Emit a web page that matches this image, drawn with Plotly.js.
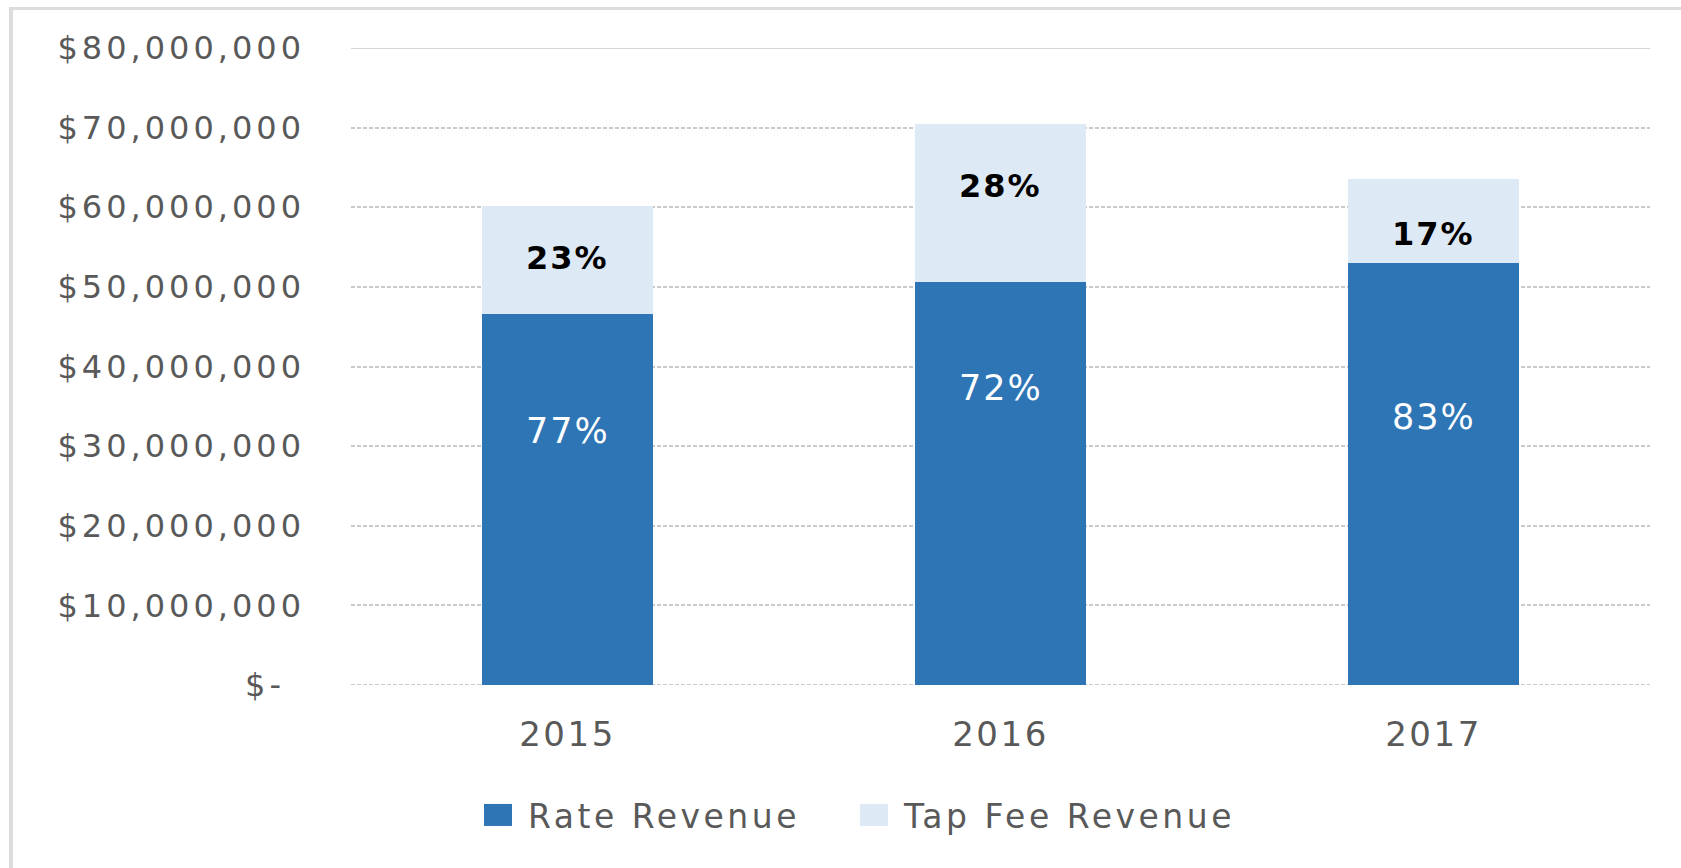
<!DOCTYPE html>
<html>
<head>
<meta charset="utf-8">
<script src="https://cdn.plot.ly/plotly-3.0.1.min.js"></script>
<style>
html, body { margin: 0; padding: 0; background: #ffffff; }
#chart { width: 1681px; height: 868px; }
.ytick text { letter-spacing: 4px; }
.xtick text { letter-spacing: 2.5px; }
.legendtext { letter-spacing: 3.5px; }
.annotation-text { letter-spacing: 2px; }
</style>
</head>
<body>
<div id="chart"></div>
<script>
// ---- data ----
const years = ['2015', '2016', '2017'];
const rateRevenue = [46600000, 50600000, 52950000];
const tapFeeRevenue = [13600000, 19800000, 10650000];
const ratePctLabels = ['77%', '72%', '83%'];
const tapPctLabels = ['23%', '28%', '17%'];
const seriesNames = ['Rate Revenue', 'Tap Fee Revenue'];
const yTickValues = [0, 10000000, 20000000, 30000000, 40000000, 50000000, 60000000, 70000000, 80000000];
const yTickLabels = ['$-\u2002', '$10,000,000', '$20,000,000', '$30,000,000', '$40,000,000',
                     '$50,000,000', '$60,000,000', '$70,000,000', '$80,000,000'];

// ---- layout constants ----
const W = 1681, H = 868;
const M = { l: 351, r: 31, t: 48, b: 183 };
const plotW = W - M.l - M.r, plotH = H - M.t - M.b;
const px2x = px => (px - M.l) / plotW;
const px2y = py => (H - M.b - py) / plotH;

const FONT = 'DejaVu Sans, Verdana, sans-serif';
const RATE_COLOR = '#2e75b6';
const TAP_COLOR = '#dde9f5';
const TEXT_GRAY = '#595959';
const GRID_COLOR = '#cacaca';

const traces = [
  {
    type: 'bar', name: '\u2009' + seriesNames[0], x: years, y: rateRevenue,
    marker: { color: RATE_COLOR, line: { width: 0 } }
  },
  {
    type: 'bar', name: '\u2009' + seriesNames[1], x: years, y: tapFeeRevenue,
    marker: { color: TAP_COLOR, line: { width: 0 } }
  }
];

const annotations = [];
years.forEach((yr, i) => {
  const total = rateRevenue[i] + tapFeeRevenue[i];
  annotations.push({
    x: i, y: total * 0.53, xref: 'x', yref: 'y', text: ratePctLabels[i], showarrow: false,
    font: { family: FONT, size: 35, color: '#ffffff' }
  });
  annotations.push({
    x: i, y: total * 0.89, xref: 'x', yref: 'y', text: tapPctLabels[i], showarrow: false,
    font: { family: FONT, size: 32, color: '#000000', weight: 'bold' }
  });
});

const yMin = yTickValues[0], yMax = yTickValues[yTickValues.length - 1];

const layout = {
  width: W, height: H,
  margin: M,
  paper_bgcolor: '#ffffff', plot_bgcolor: '#ffffff',
  barmode: 'stack', bargap: 0.605,
  font: { family: FONT, color: TEXT_GRAY },
  xaxis: {
    type: 'category', range: [-0.5, years.length - 0.5], autorange: false,
    showgrid: false, showline: false, zeroline: false, ticks: '',
    tickfont: { family: FONT, size: 34, color: TEXT_GRAY }, ticklabelstandoff: 26
  },
  yaxis: {
    range: [yMin, yMax], autorange: false, tickmode: 'array', tickvals: yTickValues, ticktext: yTickLabels,
    showgrid: true, gridcolor: GRID_COLOR, gridwidth: 2, griddash: '4px,2px',
    zeroline: false, showline: false, ticks: '',
    tickfont: { family: FONT, size: 32, color: TEXT_GRAY }, ticklabelstandoff: 45
  },
  showlegend: true,
  legend: {
    orientation: 'h', traceorder: 'normal',
    x: px2x(478), xanchor: 'left', y: px2y(815), yanchor: 'middle',
    font: { family: FONT, size: 33, color: TEXT_GRAY },
    entrywidth: 331, entrywidthmode: 'pixels', bgcolor: 'rgba(0,0,0,0)'
  },
  annotations: annotations,
  shapes: [
    // grid lines at the ends of the value range
    { type: 'line', xref: 'paper', yref: 'y', x0: 0, x1: 1, y0: yMax, y1: yMax, layer: 'below',
      line: { color: '#d6d6d6', width: 2 } },
    { type: 'line', xref: 'paper', yref: 'y', x0: 0, x1: 1, y0: yMin, y1: yMin, layer: 'below',
      line: { color: GRID_COLOR, width: 2, dash: '4px,2px' } },
    // chart frame (top and left edges)
    { type: 'line', xref: 'paper', yref: 'paper', x0: px2x(9), x1: px2x(W), y0: px2y(8.5), y1: px2y(8.5),
      line: { color: '#dcdcdc', width: 3 } },
    { type: 'line', xref: 'paper', yref: 'paper', x0: px2x(11), x1: px2x(11), y0: px2y(7), y1: px2y(H),
      line: { color: '#dcdcdc', width: 4 } }
  ]
};

Plotly.newPlot('chart', traces, layout, { displayModeBar: false, staticPlot: true }).then(gd => {
  // enlarge legend swatches to match the reference's rectangular keys
  document.querySelectorAll('path.legendbar, .legendpoints path').forEach(p => {
    p.setAttribute('d', 'M14,11H-14V-11H14Z');
  });
});
</script>
</body>
</html>
